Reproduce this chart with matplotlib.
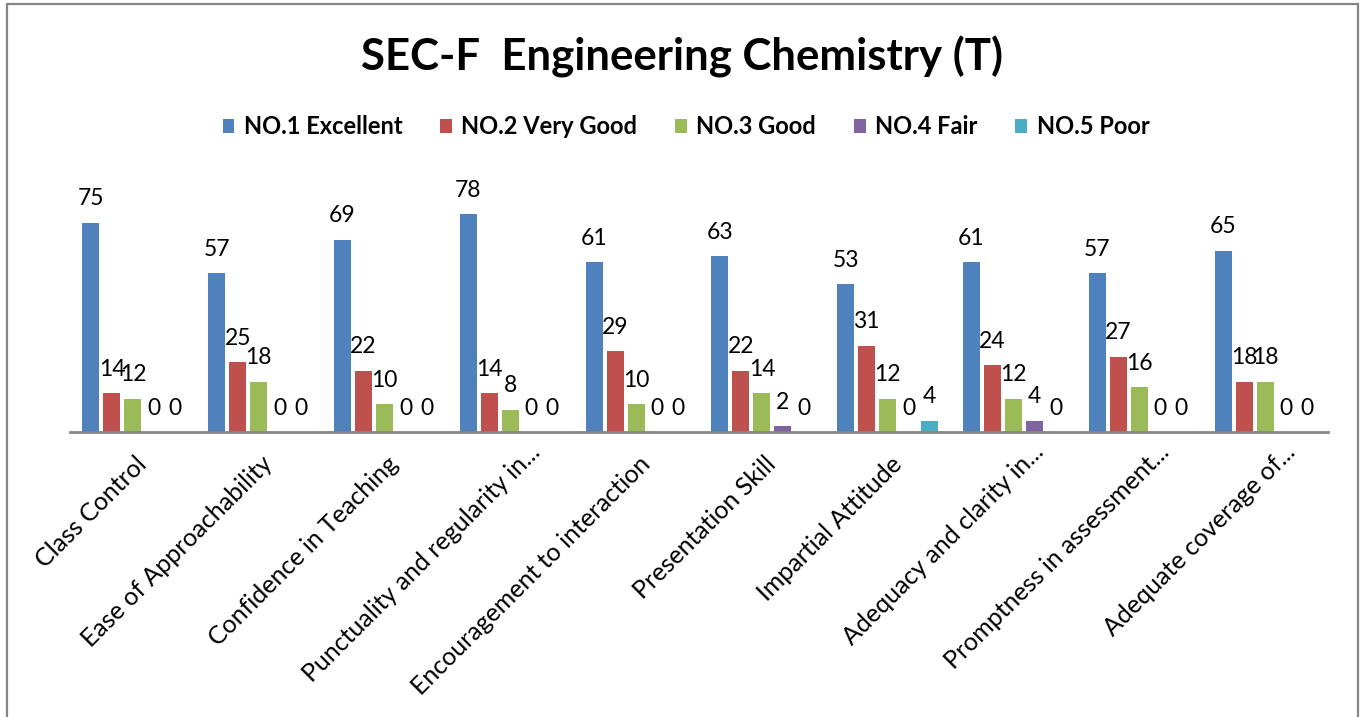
import numpy as np
import matplotlib
matplotlib.use("Agg")
import matplotlib.pyplot as plt
from matplotlib.patches import Rectangle
import matplotlib.transforms as mtransforms

plt.rcParams['font.family'] = ['Lato', 'DejaVu Sans']

title = "SEC-F  Engineering Chemistry (T)"
categories = [
    "Class Control",
    "Ease of Approachability",
    "Confidence in Teaching",
    "Punctuality and regularity in...",
    "Encouragement to interaction",
    "Presentation Skill",
    "Impartial Attitude",
    "Adequacy and clarity in...",
    "Promptness in assessment...",
    "Adequate coverage of...",
]
series_names = ["NO.1 Excellent", "NO.2 Very Good", "NO.3 Good", "NO.4 Fair", "NO.5 Poor"]
excellent = [75, 57, 69, 78, 61, 63, 53, 61, 57, 65]
very_good = [14, 25, 22, 14, 29, 22, 31, 24, 27, 18]
good = [12, 18, 10, 8, 10, 14, 12, 12, 16, 18]
fair = [0, 0, 0, 0, 0, 2, 0, 4, 0, 0]
poor = [0, 0, 0, 0, 0, 0, 4, 0, 0, 0]
colors = ["#4F81BD", "#C0504D", "#9BBB59", "#8064A2", "#4BACC6"]

data = [excellent, very_good, good, fair, poor]

W, H = 1365, 717
fig = plt.figure(figsize=(W / 100, H / 100), dpi=100)

# outer border
fig.patches.append(Rectangle((6.5 / W, -0.05), (1358 - 6.5) / W, 1.05 - 4.5 / H,
                             transform=fig.transFigure, fill=False,
                             edgecolor="#868686", linewidth=1.6))

ax = fig.add_axes([70 / W, (H - 432) / H, 1258 / W, 251 / H])
x = np.arange(len(categories))
step = 0.1668
bw = 0.135
for j, (vals, name, c) in enumerate(zip(data, series_names, colors)):
    pos = x + (j - 2) * step
    ax.bar(pos, vals, width=bw, color=c, label=name, edgecolor='none')
    for px, v in zip(pos, vals):
        ax.annotate(str(v), (px, v), xytext=(0, 12.5), textcoords='offset points',
                    ha='center', va='baseline', fontsize=16.5, color='black',
                    annotation_clip=False)

ax.set_xlim(-0.5, len(categories) - 0.5)
ax.set_ylim(0, 90)
for s in ['top', 'right', 'left']:
    ax.spines[s].set_visible(False)
ax.spines['bottom'].set_color('#868686')
ax.spines['bottom'].set_linewidth(2)
ax.set_yticks([])
ax.set_xticks([])

# category labels
base = ax.get_xaxis_transform()
for i, lab in enumerate(categories):
    dx, dy = 2, -20
    if lab.endswith("..."):
        dx, dy = 18, -8
    tr = base + mtransforms.ScaledTranslation(dx / 100, dy / 100, fig.dpi_scale_trans)
    ax.text(i, 0, lab, transform=tr, rotation=45, rotation_mode='anchor',
            ha='right', va='top', fontsize=18, color='black')

fig.text(682 / W, 1 - 57 / H, title, ha='center', va='center',
         fontsize=31.5, fontweight='bold', color='black')

fig.legend(loc='center', bbox_to_anchor=(686 / W, 1 - 127 / H), ncol=5,
           frameon=False, handlelength=0.5, handleheight=0.5,
           handletextpad=0.4, columnspacing=1.6,
           prop={'weight': 'bold', 'size': 17})

fig.savefig("out.png", dpi=100)
